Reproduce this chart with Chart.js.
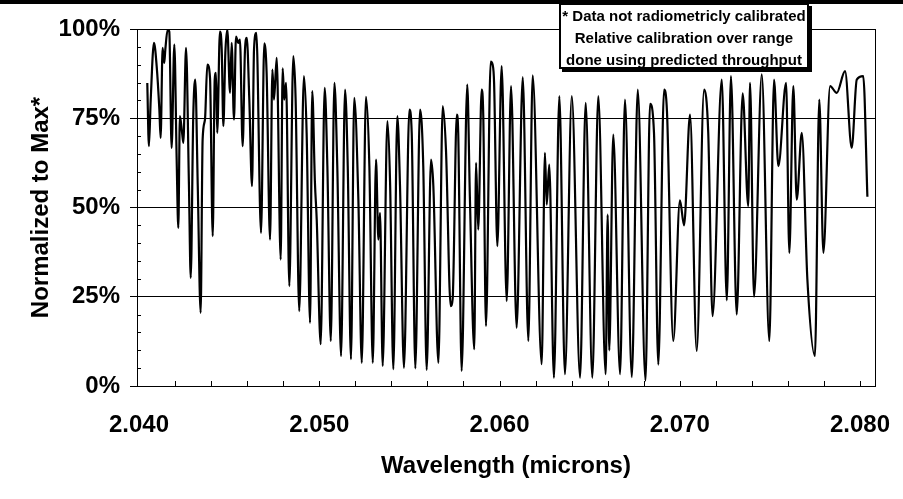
<!DOCTYPE html>
<html><head><meta charset="utf-8">
<script src="https://cdn.jsdelivr.net/npm/chart.js@4.4.0/dist/chart.umd.min.js"></script>
<style>
html,body{margin:0;padding:0;background:#fff;}
#wrap{position:relative;width:903px;height:499px;overflow:hidden;background:#fff;}
#topband{position:absolute;left:0;top:0;width:903px;height:4px;background:#000;z-index:2;}
#note{position:absolute;left:559px;top:3px;width:246px;height:62px;border:2px solid #000;box-shadow:3px 3px 0 #000;background:#fff;
  font:bold 15px "Liberation Sans",Arial,sans-serif;text-align:center;line-height:22px;color:#000;z-index:3;white-space:nowrap;}
canvas{position:absolute;left:0;top:0;}
</style></head>
<body>
<div id="wrap">
<canvas id="c" width="903" height="499"></canvas>
<div id="topband"></div>
<div id="note">* Data not radiometricly calibrated<br>Relative calibration over range<br>done using predicted throughput</div>
</div>
<script>
const wavelengths = [
2.04046,2.04055,2.04065,2.04083,2.04098,2.04113,2.04120,2.04131,2.04140,2.04146,
2.04159,2.04168,2.04181,2.04196,2.04209,2.04218,2.04227,2.04239,2.04246,2.04261,
2.04277,2.04287,2.04301,2.04312,2.04326,2.04342,2.04353,2.04366,2.04379,2.04394,
2.04409,2.04420,2.04427,2.04434,2.04449,2.04459,2.04468,2.04479,2.04490,2.04505,
2.04514,2.04527,2.04538,2.04551,2.04560,2.04575,2.04588,2.04598,2.04612,2.04627,
2.04638,2.04651,2.04677,2.04695,2.04708,2.04727,2.04740,2.04749,2.04764,2.04786,
2.04797,2.04806,2.04816,2.04834,2.04856,2.04869,2.04889,2.04915,2.04930,2.04949,
2.04961,2.04976,2.04986,2.05008,2.05030,2.05045,2.05064,2.05084,2.05100,2.05121,
2.05143,2.05158,2.05176,2.05194,2.05217,2.05236,2.05259,2.05278,2.05297,2.05315,
2.05328,2.05337,2.05352,2.05378,2.05393,2.05411,2.05433,2.05448,2.05470,2.05500,
2.05513,2.05533,2.05559,2.05577,2.05596,2.05620,2.05633,2.05661,2.05685,2.05703,
2.05729,2.05740,2.05763,2.05771,2.05790,2.05821,2.05836,2.05860,2.05870,2.05882,
2.05901,2.05910,2.05925,2.05951,2.05962,2.05970,2.05988,2.06012,2.06040,2.06064,
2.06095,2.06129,2.06160,2.06184,2.06234,2.06252,2.06262,2.06276,2.06302,2.06332,
2.06363,2.06401,2.06447,2.06478,2.06515,2.06548,2.06589,2.06600,2.06609,2.06631,
2.06669,2.06696,2.06734,2.06767,2.06810,2.06835,2.06857,2.06881,2.06913,2.06929,
2.06964,2.07001,2.07024,2.07057,2.07094,2.07135,2.07158,2.07182,2.07233,2.07261,
2.07284,2.07316,2.07349,2.07380,2.07390,2.07412,2.07455,2.07497,2.07523,2.07547,
2.07590,2.07608,2.07630,2.07649,2.07677,2.07708,2.07750,2.07774,2.07797,2.07834,
2.07871,2.07917,2.07954,2.07982,2.08018,2.08041
];
const normalized = [
84.9,67.2,80.2,96.1,89.6,77.4,69.5,94.7,90.5,94.2,
99.8,99.3,66.7,95.6,63.4,44.3,75.6,70.9,68.1,94.7,
56.4,30.3,75.6,85.8,56,20.5,69,74.6,90,86.3,
42,85.8,87.7,70.9,99.3,94.2,72.8,93.3,99.8,82.1,
96.1,74.6,97.9,96.1,97,67.2,94.2,97.5,80.2,56,
94.2,98.9,42.9,96,87.7,41,88.6,80.2,91.9,35.4,
89,80.2,84.9,28,92.4,80.2,21,86.8,70.9,17.7,
82.6,57,46.6,11.7,83.5,61.6,12.6,84.9,61.6,8.4,
83,61.6,7.5,80.7,52.2,6.5,81,61.6,6.5,63.4,
41,48.5,5.6,74.2,56.9,4.7,75.6,56,5.1,77.4,
70.9,4.9,77.4,61.6,4.5,63.4,56,6.5,78.4,66.2,
22.4,24.3,76,70.9,4.2,84.4,52.2,10.3,62.5,43.8,
83,75.6,16.8,90.9,90,84.9,39.2,89.6,23.8,84,
16.3,86.5,12.6,87,6.1,65.3,50.8,62,2.3,81.2,
3.3,81.2,2.3,79.3,2.3,81.2,3.3,48,10,70.4,
3.3,80.2,2.5,83,1.5,79,71,6,83,77,
12.6,52,45,76,9.8,83,71,19.6,85.8,24,
86.8,20,82,50.4,84.9,25,87.3,12.6,85.8,61.6,
84.9,37.3,84,52.2,70.9,29.9,8.4,80.2,37.3,84,
82.1,88.2,66.7,85.8,86.8,53
];
const xTickValues = [2.040, 2.050, 2.060, 2.070, 2.080];
const yTickValues = [0, 25, 50, 75, 100];
const xTitle = 'Wavelength (microns)';
const yTitle = 'Normalized to Max*';

const FONT = '"Liberation Sans", Arial, Helvetica, sans-serif';

const frameAndMinorTicks = {
  id: 'frameAndMinorTicks',
  afterDraw(chart) {
    const ctx = chart.ctx, a = chart.chartArea;
    const xs = chart.scales.x, ys = chart.scales.y;
    ctx.save();
    ctx.strokeStyle = '#000';
    ctx.lineWidth = 1;
    ctx.strokeRect(Math.round(a.left) + 0.5, Math.round(a.top) + 0.5, Math.round(a.right - a.left), Math.round(a.bottom - a.top));
    ctx.beginPath();
    for (let i = 1; i <= 20; i++) {
      const px = Math.round(xs.getPixelForValue(2.040 + i * 0.002)) + 0.5;
      ctx.moveTo(px, a.bottom);
      ctx.lineTo(px, a.bottom - 5);
    }
    for (let i = 1; i < 20; i++) {
      if (i % 5 === 0) continue;
      const py = Math.round(ys.getPixelForValue(i * 5)) + 0.5;
      ctx.moveTo(a.left, py);
      ctx.lineTo(a.left + 4, py);
    }
    ctx.stroke();
    ctx.restore();
  }
};

new Chart(document.getElementById('c'), {
  type: 'line',
  data: {
    datasets: [{
      data: wavelengths.map((w, i) => ({ x: w, y: normalized[i] })),
      borderColor: '#000',
      borderWidth: 2.2,
      pointRadius: 0,
      fill: false,
      cubicInterpolationMode: 'monotone'
    }]
  },
  options: {
    responsive: false,
    animation: false,
    devicePixelRatio: 1,
    layout: { padding: { left: 0, top: 29, right: 28, bottom: 0 } },
    plugins: { legend: { display: false }, tooltip: { enabled: false } },
    scales: {
      x: {
        type: 'linear',
        min: 2.039889,
        max: 2.080832,
        afterFit: s => { s.height = 113; s.paddingLeft = 0; s.paddingRight = 0; },
        afterBuildTicks: s => { s.ticks = xTickValues.map(v => ({ value: v })); },
        grid: { display: false, drawTicks: false },
        border: { display: true, color: '#000', width: 1 },
        ticks: {
          color: '#000',
          padding: 25,
          maxRotation: 0,
          autoSkip: false,
          font: { family: FONT, size: 24, weight: 'bold' },
          callback: v => Number(v).toFixed(3)
        },
        title: {
          display: true,
          text: xTitle,
          color: '#000',
          font: { family: FONT, size: 24, weight: 'bold' },
          padding: { top: 0, bottom: 18 }
        }
      },
      y: {
        min: 0,
        max: 100,
        afterFit: s => { s.width = 137; s.paddingTop = 0; s.paddingBottom = 0; },
        afterBuildTicks: s => { s.ticks = yTickValues.map(v => ({ value: v })); },
        grid: { color: '#000', lineWidth: 1, drawTicks: true, tickLength: 7, tickColor: '#000' },
        border: { display: true, color: '#000', width: 1 },
        ticks: {
          color: '#000',
          padding: 10,
          font: { family: FONT, size: 24, weight: 'bold' },
          callback: v => v + '%'
        },
        title: {
          display: true,
          text: yTitle,
          color: '#000',
          font: { family: FONT, size: 24, weight: 'bold' },
          padding: { top: 27, bottom: 0 }
        }
      }
    }
  },
  plugins: [frameAndMinorTicks]
});
</script>
</body></html>
